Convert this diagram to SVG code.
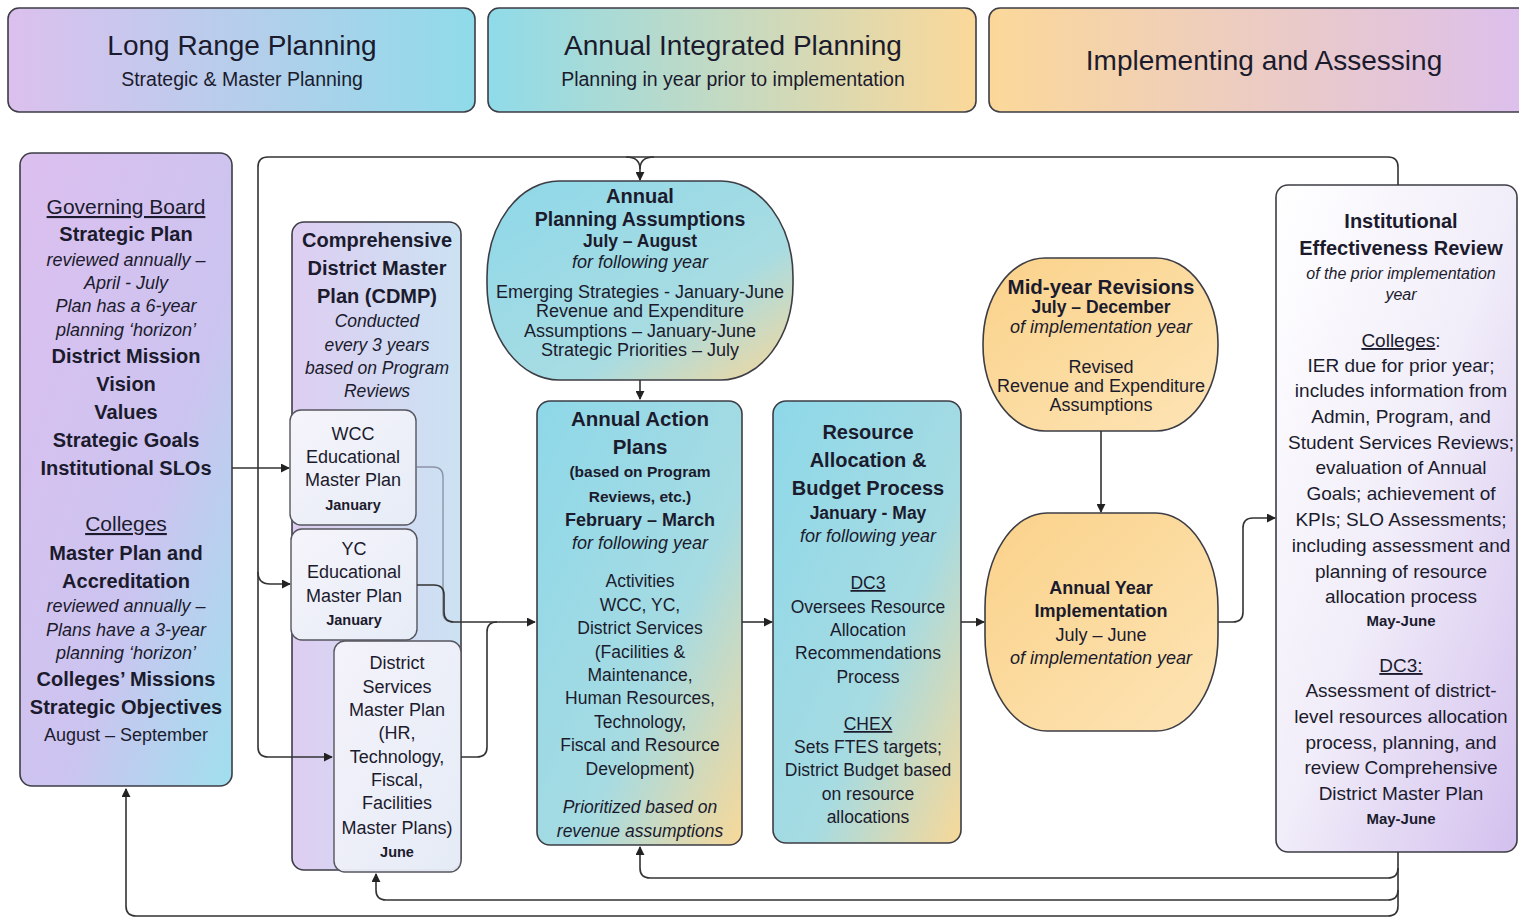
<svg xmlns="http://www.w3.org/2000/svg" width="1519" height="918" viewBox="0 0 1519 918">
<defs>
<linearGradient id="gH1" x1="0" y1="0" x2="1" y2="0"><stop offset="0" stop-color="#dcc0ee"/><stop offset="1" stop-color="#8fdbe9"/></linearGradient>
<linearGradient id="gH2" x1="0" y1="0" x2="1" y2="0"><stop offset="0" stop-color="#8fdbe9"/><stop offset="1" stop-color="#fbd899"/></linearGradient>
<linearGradient id="gH3" x1="0" y1="0" x2="1" y2="0"><stop offset="0" stop-color="#fbd899"/><stop offset="1" stop-color="#dcbfee"/></linearGradient>
<linearGradient id="gBoard" x1="0" y1="0" x2="1" y2="1"><stop offset="0" stop-color="#dcbfef"/><stop offset="0.6" stop-color="#ccc4f0"/><stop offset="1" stop-color="#a0dfed"/></linearGradient>
<linearGradient id="gCdmp" x1="0" y1="0" x2="1" y2="0"><stop offset="0" stop-color="#d8c5ef"/><stop offset="1" stop-color="#c2ddf0"/></linearGradient>
<linearGradient id="gSub" x1="0" y1="0" x2="1" y2="1"><stop offset="0" stop-color="#f6f4fb"/><stop offset="1" stop-color="#e6ecf6"/></linearGradient>
<linearGradient id="gCyan" x1="0" y1="0" x2="1" y2="1"><stop offset="0" stop-color="#8ed8e9"/><stop offset="0.6" stop-color="#a6dbe2"/><stop offset="1" stop-color="#f8d898"/></linearGradient>
<linearGradient id="gCirc" x1="0" y1="0" x2="1" y2="1"><stop offset="0" stop-color="#8ed8e9"/><stop offset="0.65" stop-color="#a8dce2"/><stop offset="1" stop-color="#f6d79a"/></linearGradient>
<linearGradient id="gOrg" x1="0" y1="0" x2="1" y2="1"><stop offset="0" stop-color="#fad28a"/><stop offset="1" stop-color="#fde4b5"/></linearGradient>
<linearGradient id="gIer" x1="0" y1="0" x2="1" y2="1"><stop offset="0" stop-color="#ffffff"/><stop offset="0.5" stop-color="#f1edf9"/><stop offset="1" stop-color="#d3c0ee"/></linearGradient>
<marker id="arr" viewBox="0 0 10 10" refX="9" refY="5" markerWidth="9" markerHeight="9" markerUnits="userSpaceOnUse" orient="auto"><path d="M0,0 L10,5 L0,10 z" fill="#222"/></marker>
</defs>
<style>
.box{stroke:#3d3d45;stroke-width:1.6}
.sub{stroke:#55555f;stroke-width:1.4}
.c{fill:none;stroke:#333;stroke-width:1.6}
.cl{fill:none;stroke:#8d93a8;stroke-width:1.4}
text{font-family:"Liberation Sans",Arial,sans-serif;text-anchor:middle;fill:#1b1b2d}
.b{font-weight:bold}
.i{font-style:italic}
.u{text-decoration:underline}
.s18{font-size:18px}
.s20{font-size:20px}
</style>
<rect width="1519" height="918" fill="#ffffff"/>

<g id="header-long-range">
<rect class="box" x="8" y="8" width="467" height="104" rx="11" fill="url(#gH1)"/>
<text x="242" y="55" style="font-size:28px">Long Range Planning</text>
<text x="242" y="86" style="font-size:19.5px">Strategic &amp; Master Planning</text>
</g>
<g id="header-annual">
<rect class="box" x="488" y="8" width="488" height="104" rx="11" fill="url(#gH2)"/>
<text x="733" y="55" style="font-size:28px">Annual Integrated Planning</text>
<text x="733" y="86" style="font-size:19.5px">Planning in year prior to implementation</text>
</g>
<g id="header-implementing">
<rect class="box" x="989" y="8" width="545" height="104" rx="11" fill="url(#gH3)"/>
<text x="1264" y="70" style="font-size:28px">Implementing and Assessing</text>
</g>

<g id="governing-board">
<rect class="box" x="20" y="153" width="212" height="633" rx="12" fill="url(#gBoard)"/>
<text x="126" y="214" class="u" style="font-size:21px">Governing Board</text>
<text x="126" y="241" class="b s20">Strategic Plan</text>
<text x="126" y="266" class="i s18">reviewed annually –</text>
<text x="126" y="289" class="i s18">April - July</text>
<text x="126" y="312" class="i s18">Plan has a 6-year</text>
<text x="126" y="336" class="i s18">planning ‘horizon’</text>
<text x="126" y="363" class="b s20">District Mission</text>
<text x="126" y="391" class="b s20">Vision</text>
<text x="126" y="419" class="b s20">Values</text>
<text x="126" y="447" class="b s20">Strategic Goals</text>
<text x="126" y="475" class="b s20">Institutional SLOs</text>
<text x="126" y="531" class="u" style="font-size:21px">Colleges</text>
<text x="126" y="560" class="b s20">Master Plan and</text>
<text x="126" y="588" class="b s20">Accreditation</text>
<text x="126" y="612" class="i s18">reviewed annually –</text>
<text x="126" y="636" class="i s18">Plans have a 3-year</text>
<text x="126" y="659" class="i s18">planning ‘horizon’</text>
<text x="126" y="686" class="b s20">Colleges’ Missions</text>
<text x="126" y="714" class="b s20">Strategic Objectives</text>
<text x="126" y="741" class="s18">August – September</text>
</g>

<g id="cdmp">
<rect class="box" x="292" y="222" width="169" height="648" rx="12" fill="url(#gCdmp)" fill-opacity="0.85"/>
<text x="377" y="247" class="b s20">Comprehensive</text>
<text x="377" y="275" class="b s20">District Master</text>
<text x="377" y="303" class="b s20">Plan (CDMP)</text>
<text x="377" y="327" class="i" style="font-size:17.5px">Conducted</text>
<text x="377" y="351" class="i" style="font-size:17.5px">every 3 years</text>
<text x="377" y="374" class="i" style="font-size:17.5px">based on Program</text>
<text x="377" y="397" class="i" style="font-size:17.5px">Reviews</text>
</g>

<g id="wcc-emp">
<rect class="sub" x="290" y="410" width="126" height="115" rx="11" fill="url(#gSub)"/>
<text x="353" y="440" class="s18">WCC</text>
<text x="353" y="463" class="s18">Educational</text>
<text x="353" y="486" class="s18">Master Plan</text>
<text x="353" y="510" class="b" style="font-size:14.5px">January</text>
</g>
<g id="yc-emp">
<rect class="sub" x="291" y="529" width="126" height="111" rx="11" fill="url(#gSub)"/>
<text x="354" y="555" class="s18">YC</text>
<text x="354" y="578" class="s18">Educational</text>
<text x="354" y="602" class="s18">Master Plan</text>
<text x="354" y="625" class="b" style="font-size:14.5px">January</text>
</g>
<g id="district-services">
<rect class="sub" x="334" y="641" width="127" height="231" rx="11" fill="url(#gSub)" fill-opacity="0.95"/>
<text x="397" y="669" class="s18">District</text>
<text x="397" y="693" class="s18">Services</text>
<text x="397" y="716" class="s18">Master Plan</text>
<text x="397" y="739" class="s18">(HR,</text>
<text x="397" y="763" class="s18">Technology,</text>
<text x="397" y="786" class="s18">Fiscal,</text>
<text x="397" y="809" class="s18">Facilities</text>
<text x="397" y="834" class="s18">Master Plans)</text>
<text x="397" y="857" class="b" style="font-size:14.5px">June</text>
</g>

<g id="planning-assumptions">
<rect class="box" x="487" y="181" width="306" height="199" rx="72" ry="96" fill="url(#gCirc)"/>
<text x="640" y="203" class="b s20">Annual</text>
<text x="640" y="226" class="b" style="font-size:19.5px">Planning Assumptions</text>
<text x="640" y="247" class="b" style="font-size:17.5px">July – August</text>
<text x="640" y="268" class="i s18">for following year</text>
<text x="640" y="298" class="s18">Emerging Strategies - January-June</text>
<text x="640" y="317" class="s18">Revenue and Expenditure</text>
<text x="640" y="337" class="s18">Assumptions – January-June</text>
<text x="640" y="356" class="s18">Strategic Priorities – July</text>
</g>

<g id="action-plans">
<rect class="box" x="537" y="401" width="205" height="444" rx="13" fill="url(#gCyan)"/>
<text x="640" y="426" class="b" style="font-size:20.5px">Annual Action</text>
<text x="640" y="454" class="b" style="font-size:20.5px">Plans</text>
<text x="640" y="477" class="b" style="font-size:15.5px">(based on Program</text>
<text x="640" y="502" class="b" style="font-size:15.5px">Reviews, etc.)</text>
<text x="640" y="526" class="b s18">February – March</text>
<text x="640" y="549" class="i s18">for following year</text>
<text x="640" y="587" style="font-size:17.5px">Activities</text>
<text x="640" y="611" style="font-size:17.5px">WCC, YC,</text>
<text x="640" y="634" style="font-size:17.5px">District Services</text>
<text x="640" y="658" style="font-size:17.5px">(Facilities &amp;</text>
<text x="640" y="681" style="font-size:17.5px">Maintenance,</text>
<text x="640" y="704" style="font-size:17.5px">Human Resources,</text>
<text x="640" y="728" style="font-size:17.5px">Technology,</text>
<text x="640" y="751" style="font-size:17.5px">Fiscal and Resource</text>
<text x="640" y="775" style="font-size:17.5px">Development)</text>
<text x="640" y="813" class="i" style="font-size:17.5px">Prioritized based on</text>
<text x="640" y="837" class="i" style="font-size:17.5px">revenue assumptions</text>
</g>

<g id="resource-allocation">
<rect class="box" x="773" y="401" width="188" height="442" rx="13" fill="url(#gCyan)"/>
<text x="868" y="439" class="b s20">Resource</text>
<text x="868" y="467" class="b s20">Allocation &amp;</text>
<text x="868" y="495" class="b s20">Budget Process</text>
<text x="868" y="519" class="b" style="font-size:17.5px">January - May</text>
<text x="868" y="542" class="i s18">for following year</text>
<text x="868" y="589" class="u" style="font-size:17.5px">DC3</text>
<text x="868" y="613" style="font-size:17.5px">Oversees Resource</text>
<text x="868" y="636" style="font-size:17.5px">Allocation</text>
<text x="868" y="659" style="font-size:17.5px">Recommendations</text>
<text x="868" y="683" style="font-size:17.5px">Process</text>
<text x="868" y="730" class="u" style="font-size:17.5px">CHEX</text>
<text x="868" y="753" style="font-size:17.5px">Sets FTES targets;</text>
<text x="868" y="776" style="font-size:17.5px">District Budget based</text>
<text x="868" y="800" style="font-size:17.5px">on resource</text>
<text x="868" y="823" style="font-size:17.5px">allocations</text>
</g>

<g id="mid-year">
<rect class="box" x="983" y="258" width="235" height="173" rx="62" ry="86" fill="url(#gOrg)"/>
<text x="1101" y="294" class="b" style="font-size:20.5px">Mid-year Revisions</text>
<text x="1101" y="313" class="b" style="font-size:17.5px">July – December</text>
<text x="1101" y="333" class="i s18">of implementation year</text>
<text x="1101" y="373" class="s18">Revised</text>
<text x="1101" y="392" class="s18">Revenue and Expenditure</text>
<text x="1101" y="411" class="s18">Assumptions</text>
</g>

<g id="implementation">
<rect class="box" x="985" y="513" width="233" height="218" rx="62" ry="95" fill="url(#gOrg)"/>
<text x="1101" y="594" class="b s18">Annual Year</text>
<text x="1101" y="617" class="b s18">Implementation</text>
<text x="1101" y="641" class="s18">July – June</text>
<text x="1101" y="664" class="i s18">of implementation year</text>
</g>

<g id="effectiveness-review">
<rect class="box" x="1276" y="185" width="241" height="667" rx="12" fill="url(#gIer)"/>
<text x="1401" y="228" class="b s20">Institutional</text>
<text x="1401" y="255" class="b s20">Effectiveness Review</text>
<text x="1401" y="279" class="i" style="font-size:16px">of the prior implementation</text>
<text x="1401" y="300" class="i" style="font-size:16px">year</text>
<text x="1401" y="347" style="font-size:19px"><tspan class="u">Colleges</tspan>:</text>
<text x="1401" y="372" style="font-size:19px">IER due for prior year;</text>
<text x="1401" y="397" style="font-size:19px">includes information from</text>
<text x="1401" y="423" style="font-size:19px">Admin, Program, and</text>
<text x="1401" y="449" style="font-size:19px">Student Services Reviews;</text>
<text x="1401" y="474" style="font-size:19px">evaluation of Annual</text>
<text x="1401" y="500" style="font-size:19px">Goals; achievement of</text>
<text x="1401" y="526" style="font-size:19px">KPIs; SLO Assessments;</text>
<text x="1401" y="552" style="font-size:19px">including assessment and</text>
<text x="1401" y="578" style="font-size:19px">planning of resource</text>
<text x="1401" y="603" style="font-size:19px">allocation process</text>
<text x="1401" y="626" class="b" style="font-size:15px">May-June</text>
<text x="1401" y="672" style="font-size:19px"><tspan class="u">DC3:</tspan></text>
<text x="1401" y="697" style="font-size:19px">Assessment of district-</text>
<text x="1401" y="723" style="font-size:19px">level resources allocation</text>
<text x="1401" y="749" style="font-size:19px">process, planning, and</text>
<text x="1401" y="774" style="font-size:19px">review Comprehensive</text>
<text x="1401" y="800" style="font-size:19px">District Master Plan</text>
<text x="1401" y="824" class="b" style="font-size:15px">May-June</text>
</g>

<g id="connectors">
<path class="c" d="M1398 185 V167 Q1398 157 1388 157 H268 Q258 157 258 167 V747 Q258 757 268 757 H332" marker-end="url(#arr)"/>
<path class="c" d="M626 157 Q640 157 640 169 M654 157 Q640 157 640 169"/>
<path class="c" d="M640 166 V180" marker-end="url(#arr)"/>
<path class="c" d="M232 468 H289" marker-end="url(#arr)"/>
<path class="c" d="M258 572 Q258 584 270 584 H290" marker-end="url(#arr)"/>
<path class="cl" d="M417 467 H433 Q443 467 443 477 V612 Q443 622 453 622"/>
<path class="c" d="M417 585 H434 Q444 585 444 595 V612 Q444 622 454 622 H535" marker-end="url(#arr)"/>
<path class="c" d="M461 757 H477 Q487 757 487 747 V632 Q487 622 497 622"/>
<path class="c" d="M640 380 V399" marker-end="url(#arr)"/>
<path class="c" d="M742 622 H772" marker-end="url(#arr)"/>
<path class="c" d="M961 622 H984" marker-end="url(#arr)"/>
<path class="c" d="M1101 431 V512" marker-end="url(#arr)"/>
<path class="c" d="M1218 622 H1233 Q1243 622 1243 612 V528 Q1243 518 1253 518 H1275" marker-end="url(#arr)"/>
<path class="c" d="M1398 852 V868 Q1398 878 1388 878 H650 Q640 878 640 868 V847" marker-end="url(#arr)"/>
<path class="c" d="M1398 868 V890 Q1398 900 1388 900 H386 Q376 900 376 890 V874" marker-end="url(#arr)"/>
<path class="c" d="M1398 890 V906 Q1398 916 1388 916 H136 Q126 916 126 906 V789" marker-end="url(#arr)"/>
</g>
</svg>
